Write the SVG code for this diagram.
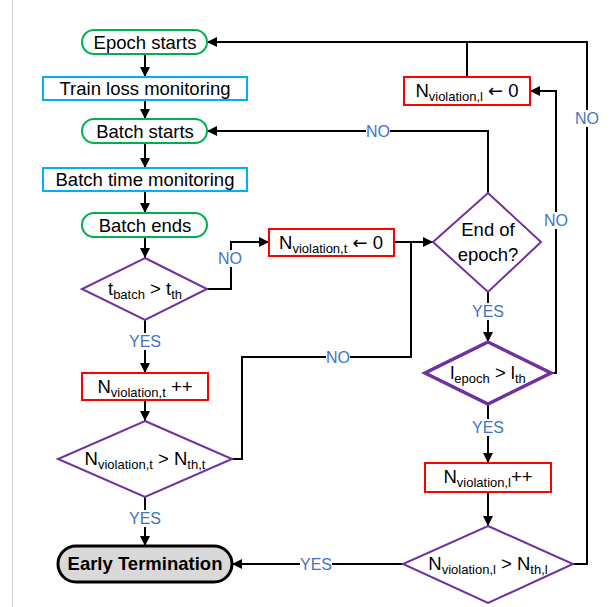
<svg xmlns="http://www.w3.org/2000/svg" width="611" height="607" viewBox="0 0 611 607">
<style>
text{font-family:"Liberation Sans",Arial,sans-serif;fill:#000;text-anchor:middle}
.t{font-size:18.5px}
.s{font-size:13px}
.ar{font-family:"DejaVu Sans",sans-serif;font-size:18px}
.lbl{font-size:16px;fill:#4472c4}
.bg{fill:#fff;stroke:none}
.start{fill:#fff;stroke:#00b050;stroke-width:2}
.mon{fill:#fff;stroke:#00b0f0;stroke-width:2}
.red{fill:#fff;stroke:#ff0000;stroke-width:2}
.dec{fill:#fff;stroke:#7030a0;stroke-width:2}
.dec2{fill:#fff;stroke:#7030a0;stroke-width:3.5}
.c{fill:none;stroke:#000;stroke-width:2}
.ca{fill:none;stroke:#000;stroke-width:2;marker-end:url(#ah)}
</style>
<defs>
<marker id="ah" viewBox="0 0 10 10" refX="10" refY="5" markerWidth="10" markerHeight="10" markerUnits="userSpaceOnUse" orient="auto">
<path d="M0,0 L10,5 L0,10 z" fill="#000"/>
</marker>
</defs>
<line x1="12.5" y1="0" x2="12.5" y2="607" stroke="#d0d0d0" stroke-width="1"/>
<g id="connectors">
<line class="ca" x1="145" y1="54" x2="145" y2="77"/>
<line class="ca" x1="145" y1="100" x2="145" y2="119"/>
<line class="ca" x1="145" y1="143" x2="145" y2="168"/>
<line class="ca" x1="145" y1="191" x2="145" y2="213"/>
<line class="ca" x1="145" y1="237" x2="145" y2="258"/>
<polyline class="ca" points="207,289 231,289 231,242 269,242"/>
<line class="ca" x1="145" y1="320" x2="145" y2="373"/>
<line class="ca" x1="145" y1="400" x2="145" y2="421"/>
<line class="ca" x1="145" y1="497" x2="145" y2="546"/>
<line class="ca" x1="394" y1="242" x2="433" y2="242"/>
<polyline class="c" points="231,459 242,459 242,357 411,357 411,242"/>
<polyline class="ca" points="488,193 488,131 207,131"/>
<line class="ca" x1="488" y1="292" x2="488" y2="342"/>
<polyline class="ca" points="551,373 556,373 556,91 530,91"/>
<line class="c" x1="467" y1="77" x2="467" y2="42"/>
<polyline class="ca" points="573,564 587,564 587,42 207,42"/>
<line class="ca" x1="488" y1="404" x2="488" y2="463"/>
<line class="ca" x1="488" y1="492" x2="488" y2="526"/>
<line class="ca" x1="403" y1="564" x2="232" y2="564"/>
<rect class="bg" x="218" y="250" width="24" height="17"/>
<text class="lbl" x="230" y="264">NO</text>
<rect class="bg" x="129" y="333" width="32" height="17"/>
<text class="lbl" x="145" y="347">YES</text>
<rect class="bg" x="129" y="510" width="32" height="17"/>
<text class="lbl" x="145" y="524">YES</text>
<rect class="bg" x="326" y="349" width="24" height="17"/>
<text class="lbl" x="338" y="363">NO</text>
<rect class="bg" x="366" y="123" width="24" height="17"/>
<text class="lbl" x="378" y="137">NO</text>
<rect class="bg" x="472" y="303" width="32" height="17"/>
<text class="lbl" x="488" y="317">YES</text>
<rect class="bg" x="544" y="212" width="24" height="17"/>
<text class="lbl" x="556" y="226">NO</text>
<rect class="bg" x="575" y="110" width="24" height="17"/>
<text class="lbl" x="587" y="124">NO</text>
<rect class="bg" x="472" y="419" width="32" height="17"/>
<text class="lbl" x="488" y="433">YES</text>
<rect class="bg" x="300" y="556" width="32" height="17"/>
<text class="lbl" x="316" y="570">YES</text>
</g>
<g id="epoch-starts">
<rect class="start" x="82" y="30" width="125" height="24" rx="12"/>
<text class="t" x="145" y="48.5">Epoch starts</text>
</g>
<g id="train-loss">
<rect class="mon" x="43" y="77" width="204" height="23"/>
<text class="t" x="145" y="95">Train loss monitoring</text>
</g>
<g id="batch-starts">
<rect class="start" x="82" y="119" width="125" height="24" rx="12"/>
<text class="t" x="145" y="137.5">Batch starts</text>
</g>
<g id="batch-time">
<rect class="mon" x="43" y="168" width="204" height="23"/>
<text class="t" x="145" y="186">Batch time monitoring</text>
</g>
<g id="batch-ends">
<rect class="start" x="82" y="213" width="125" height="24" rx="12"/>
<text class="t" x="145" y="231.5">Batch ends</text>
</g>
<g id="tbatch-check">
<polygon class="dec" points="145,258 207,289 145,320 82,289"/>
<text class="t" x="145" y="295">t<tspan class="s" dy="4">batch</tspan><tspan dy="-4"> &gt; t</tspan><tspan class="s" dy="4">th</tspan></text>
</g>
<g id="nvt-inc">
<rect class="red" x="82" y="373" width="126" height="27"/>
<text class="t" x="145" y="393">N<tspan class="s" dy="4">violation,t</tspan><tspan dy="-4"> ++</tspan></text>
</g>
<g id="nvt-check">
<polygon class="dec" points="145,421 232,459 145,497 58,459"/>
<text class="t" x="145" y="465">N<tspan class="s" dy="4">violation,t</tspan><tspan dy="-4"> &gt; N</tspan><tspan class="s" dy="4">th,t</tspan></text>
</g>
<g id="early-termination">
<rect x="58" y="546" width="174" height="36" rx="18" fill="#d9d9d9" stroke="#000" stroke-width="3"/>
<text class="t" x="145" y="570" font-weight="bold">Early Termination</text>
</g>
<g id="nvt-reset">
<rect class="red" x="269" y="229" width="125" height="27"/>
<text class="t" x="331" y="249">N<tspan class="s" dy="4">violation,t</tspan><tspan dy="-4"> </tspan><tspan class="ar">←</tspan> 0</text>
</g>
<g id="end-of-epoch">
<polygon class="dec" points="488,193 541,242 488,292 433,242"/>
<text class="t" x="488" y="236">End of</text>
<text class="t" x="488" y="261">epoch?</text>
</g>
<g id="loss-check">
<polygon class="dec2" points="488,342 551,373 488,404 425,373"/>
<text class="t" x="488" y="379">l<tspan class="s" dy="4">epoch</tspan><tspan dy="-4"> &gt; l</tspan><tspan class="s" dy="4">th</tspan></text>
</g>
<g id="nvl-reset">
<rect class="red" x="404" y="77" width="126" height="28"/>
<text class="t" x="467" y="97">N<tspan class="s" dy="4">violation,l</tspan><tspan dy="-4"> </tspan><tspan class="ar">←</tspan> 0</text>
</g>
<g id="nvl-inc">
<rect class="red" x="425" y="463" width="126" height="29"/>
<text class="t" x="488" y="483">N<tspan class="s" dy="4">violation,l</tspan><tspan dy="-4">++</tspan></text>
</g>
<g id="nvl-check">
<polygon class="dec" points="488,526 573,564 488,603 403,564"/>
<text class="t" x="488" y="570">N<tspan class="s" dy="4">violation,l</tspan><tspan dy="-4"> &gt; N</tspan><tspan class="s" dy="4">th,l</tspan></text>
</g>
</svg>
